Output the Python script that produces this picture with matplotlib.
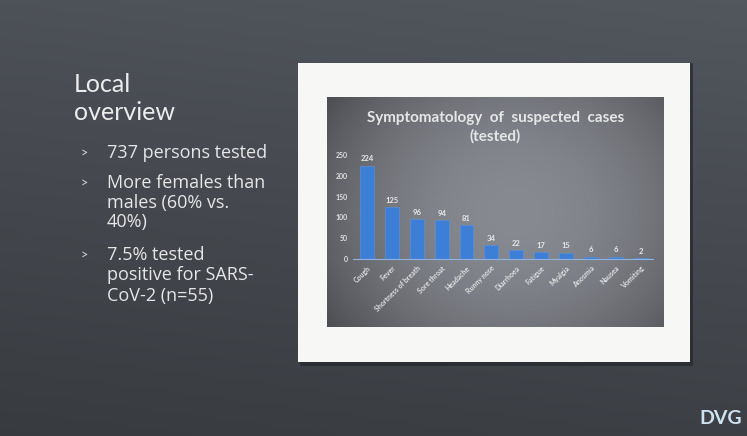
import numpy as np
import matplotlib
matplotlib.use("Agg")
import matplotlib.pyplot as plt
from matplotlib.patches import Rectangle

# chart data
symptoms = ["Cough", "Fever", "Shortness of breath", "Sore throat", "Headache",
            "Runny nose", "Diarrhoea", "Fatigue", "Myalgia", "Anosmia",
            "Nausea", "Vomiting"]
counts = [224, 125, 96, 94, 81, 34, 22, 17, 15, 6, 6, 2]
yticks = [0, 50, 100, 150, 200, 250]

slide_title = ["Local", "overview"]
bullets = [["737 persons tested"],
           ["More females than", "males (60% vs.", "40%)"],
           ["7.5% tested", "positive for SARS-", "CoV-2 (n=55)"]]

W, H = 747, 436
fig = plt.figure(figsize=(W / 100, H / 100), dpi=100)
FONT = "Lato"

def fx(px):
    return px / W

def fy(py):
    return 1 - py / H

# slide background: dark grey gradient
bg = fig.add_axes([0, 0, 1, 1])
bg.set_axis_off()
yy = np.linspace(0, 1, 200)[:, None]
xx = np.linspace(0, 1, 300)[None, :]
shade = 0.32 - 0.09 * yy + 0.02 * xx
bg.imshow(np.dstack([shade * 0.95, shade, shade * 1.08]), aspect="auto",
          extent=[0, 1, 0, 1], origin="upper")
bg.set_xlim(0, 1)
bg.set_ylim(0, 1)

# white picture frame with soft shadow
bg.add_patch(Rectangle((fx(300), fy(366)), fx(693) - fx(300), fy(63) - fy(366),
                       color="#1e2125", alpha=0.6, lw=0))
bg.add_patch(Rectangle((fx(298), fy(362)), fx(690) - fx(298), fy(63) - fy(362),
                       color="#f7f7f5", lw=0))

# left text
bg.text(fx(74), fy(85), slide_title[0], family=FONT, fontsize=18,
        color="#ececec", va="center")
bg.text(fx(74), fy(113), slide_title[1], family=FONT, fontsize=18,
        color="#ececec", va="center")
line_y = [[153], [183, 203, 222], [255, 275, 296]]
for lines, ys in zip(bullets, line_y):
    bg.text(fx(81), fy(ys[0]), ">", family=FONT, fontsize=9,
            color="#d8d8d8", va="center")
    for txt, y in zip(lines, ys):
        bg.text(fx(107), fy(y), txt, family="Open Sans", fontsize=13,
                color="#e6e6e6", va="center")

# logo
bg.text(fx(742), fy(418), "DVG", family=FONT, fontsize=14, fontweight="bold",
        color="#cfe4f2", ha="right", va="center")

# chart picture: grey radial-ish gradient
inner = fig.add_axes([fx(327), fy(327), fx(664) - fx(327), fy(97) - fy(327)])
inner.set_axis_off()
gx = np.linspace(-1, 1, 300)[None, :]
gy = np.linspace(-1, 1, 200)[:, None]
g = 0.55 - 0.13 * (gx ** 2) - 0.08 * (gy ** 2) + 0.03 * gx
inner.imshow(np.dstack([g * 0.96, g * 0.98, g * 1.03]), aspect="auto",
             extent=[0, 1, 0, 1])
inner.text(0.5, 0.91, "Symptomatology  of  suspected  cases", family=FONT,
           fontsize=11, fontweight="bold", color="#e6e6e6", ha="center",
           va="center", transform=inner.transAxes)
inner.text(0.5, 0.83, "(tested)", family=FONT, fontsize=11,
           fontweight="bold", color="#e6e6e6", ha="center", va="center",
           transform=inner.transAxes)

ax = fig.add_axes([fx(353), fy(259), fx(653) - fx(353), fy(155) - fy(259)])
ax.patch.set_alpha(0)
x = np.arange(len(symptoms))
bars = ax.bar(x, counts, width=0.56, color="#3d7fd6", edgecolor="#5a95e0",
              lw=0.4)
for xi, v in zip(x, counts):
    ax.text(xi, v + 8, str(v), ha="center", va="bottom", fontsize=5.5,
            family=FONT, fontweight="bold", color="#e8e8e8")
ax.set_xlim(-0.56, 11.49)
ax.set_ylim(0, 250)
ax.set_yticks(yticks)
ax.set_yticklabels([str(t) for t in yticks], fontsize=5, color="#e0e0e0",
                   family=FONT, fontweight="bold")
ax.set_xticks(x)
ax.set_xticklabels(symptoms, rotation=45, ha="right", rotation_mode="anchor",
                   fontsize=5, color="#e0e0e0", family=FONT, fontweight="bold")
ax.tick_params(length=0, pad=4)
for s in ["top", "right", "left"]:
    ax.spines[s].set_visible(False)
ax.spines["bottom"].set_color("#8fb3e0")
ax.spines["bottom"].set_linewidth(0.8)

fig.savefig("out.png", dpi=100)
